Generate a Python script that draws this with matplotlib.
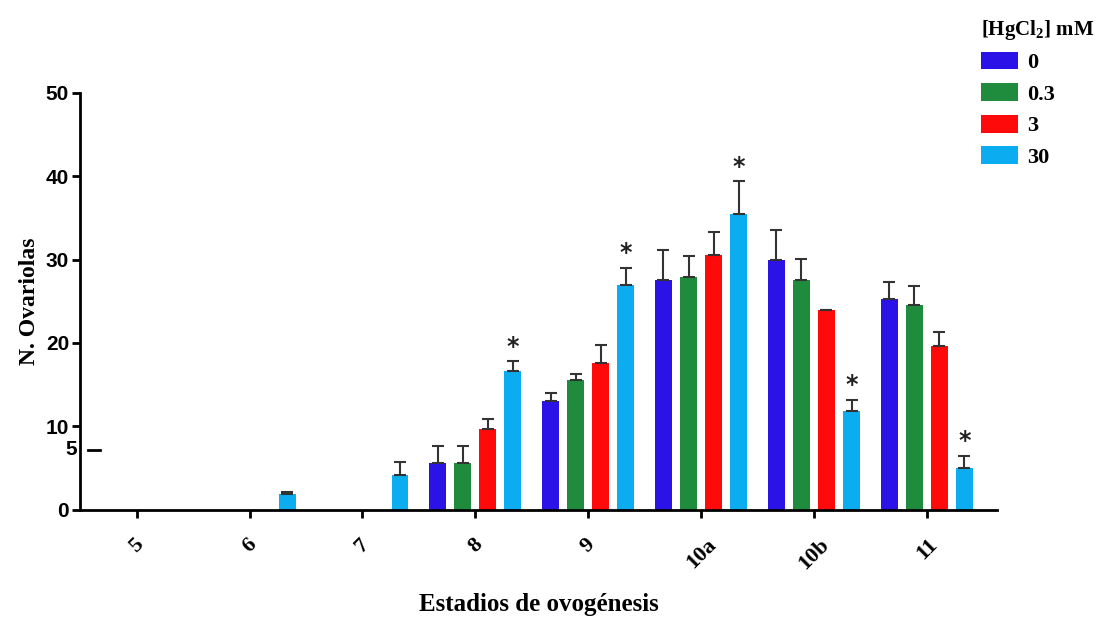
import numpy as np
import matplotlib
matplotlib.use("Agg")
import matplotlib.pyplot as plt
from matplotlib.patches import Patch
from matplotlib.transforms import blended_transform_factory

plt.rcParams['mathtext.fontset'] = 'custom'
plt.rcParams['mathtext.rm'] = 'Liberation Serif'
plt.rcParams['mathtext.bf'] = 'Liberation Serif:bold'

# Data
stages = ['5', '6', '7', '8', '9', '10a', '10b', '11']
conc_labels = ['0', '0.3', '3', '30']

mean_0 = [0, 0, 0, 5.6, 13.0, 27.6, 29.9, 25.3]
mean_03 = [0, 0, 0, 5.6, 15.6, 27.9, 27.6, 24.5]
mean_3 = [0, 0, 0, 9.7, 17.6, 30.6, 23.9, 19.6]
mean_30 = [0, 1.9, 4.2, 16.7, 27.0, 35.5, 11.9, 5.0]

err_0 = [0, 0, 0, 2.1, 1.0, 3.6, 3.6, 2.0]
err_03 = [0, 0, 0, 2.1, 0.7, 2.5, 2.5, 2.3]
err_3 = [0, 0, 0, 1.2, 2.1, 2.7, 0.1, 1.7]
err_30 = [0, 0.2, 1.5, 1.1, 2.0, 3.9, 1.3, 1.5]

signif_30 = [False, False, False, True, True, True, True, True]

colors = ['#2b12e6', '#1e8c3c', '#ff0a0a', '#0badf0']

fig = plt.figure(figsize=(10.99, 6.18), dpi=100)
ax = fig.add_axes([0.073, 0.175, 0.834, 0.675])

x = np.arange(len(stages))
width = 0.15
offsets = [-1.5, -0.5, 0.5, 1.5]
spacing = 0.222

means = [mean_0, mean_03, mean_3, mean_30]
errs = [err_0, err_03, err_3, err_30]

for i in range(4):
    pos = x + offsets[i] * spacing
    m = np.array(means[i])
    e = np.array(errs[i])
    mask = m > 0
    ax.bar(pos[mask], m[mask], width=width, color=colors[i], zorder=2)
    ax.errorbar(pos[mask], m[mask], yerr=[np.zeros(mask.sum()), e[mask]],
                fmt='none', ecolor='#333333', elinewidth=1.5, capsize=4,
                capthick=1.5, zorder=3)

# significance marks
pos30 = x + offsets[3] * spacing
for p, m, e, s in zip(pos30, mean_30, err_30, signif_30):
    if s:
        ax.text(p, m + e + 0.3, '*', ha='center', va='bottom',
                fontsize=17, fontweight='bold', color='#222222')

ax.set_xlim(-0.5, 7.62)
ax.set_ylim(0, 50)
ax.set_yticks([0, 10, 20, 30, 40, 50])
ax.set_xticks(x)
ax.set_xticklabels(stages, rotation=45, fontfamily='Liberation Serif',
                   fontweight='bold', fontsize=16)
for lbl in ax.get_yticklabels():
    lbl.set_fontfamily('Liberation Sans')
    lbl.set_fontweight('bold')
    lbl.set_fontsize(15)

ax.spines['top'].set_visible(False)
ax.spines['right'].set_visible(False)
ax.spines['left'].set_linewidth(2)
ax.spines['bottom'].set_linewidth(2)
ax.tick_params(axis='both', width=2, length=6, pad=2)
ax.tick_params(axis='x', pad=12)

# stray "5" label with a short dash next to the y axis
tr = blended_transform_factory(ax.transAxes, ax.transData)
ax.plot([0.008, 0.022], [7.2, 7.2], color='black', lw=2, transform=tr, clip_on=False)
ax.text(-0.004, 7.2, '5', transform=tr, ha='right', va='center',
        fontsize=15, fontweight='bold', fontfamily='Liberation Sans')

ax.set_ylabel('N. Ovariolas', fontfamily='Liberation Serif', fontweight='bold',
              fontsize=17, labelpad=4)
ax.set_xlabel('Estadios de ovogénesis', fontfamily='Liberation Serif',
              fontweight='bold', fontsize=18, labelpad=14)

handles = [Patch(facecolor=c, edgecolor='none') for c in colors]
leg = fig.legend(handles, conc_labels, loc='upper left',
                 bbox_to_anchor=(0.876, 1.0), frameon=False, borderpad=0.3,
                 title='[HgCl$_\\mathbf{2}$] mM',
                 prop={'family': 'Liberation Serif', 'weight': 'bold', 'size': 16},
                 handlelength=1.7, handleheight=0.85, labelspacing=0.45,
                 handletextpad=0.4, alignment='left')
leg.get_title().set_fontfamily('Liberation Serif')
leg.get_title().set_fontweight('bold')
leg.get_title().set_fontsize(15)

fig.savefig('out.png', dpi=100)
